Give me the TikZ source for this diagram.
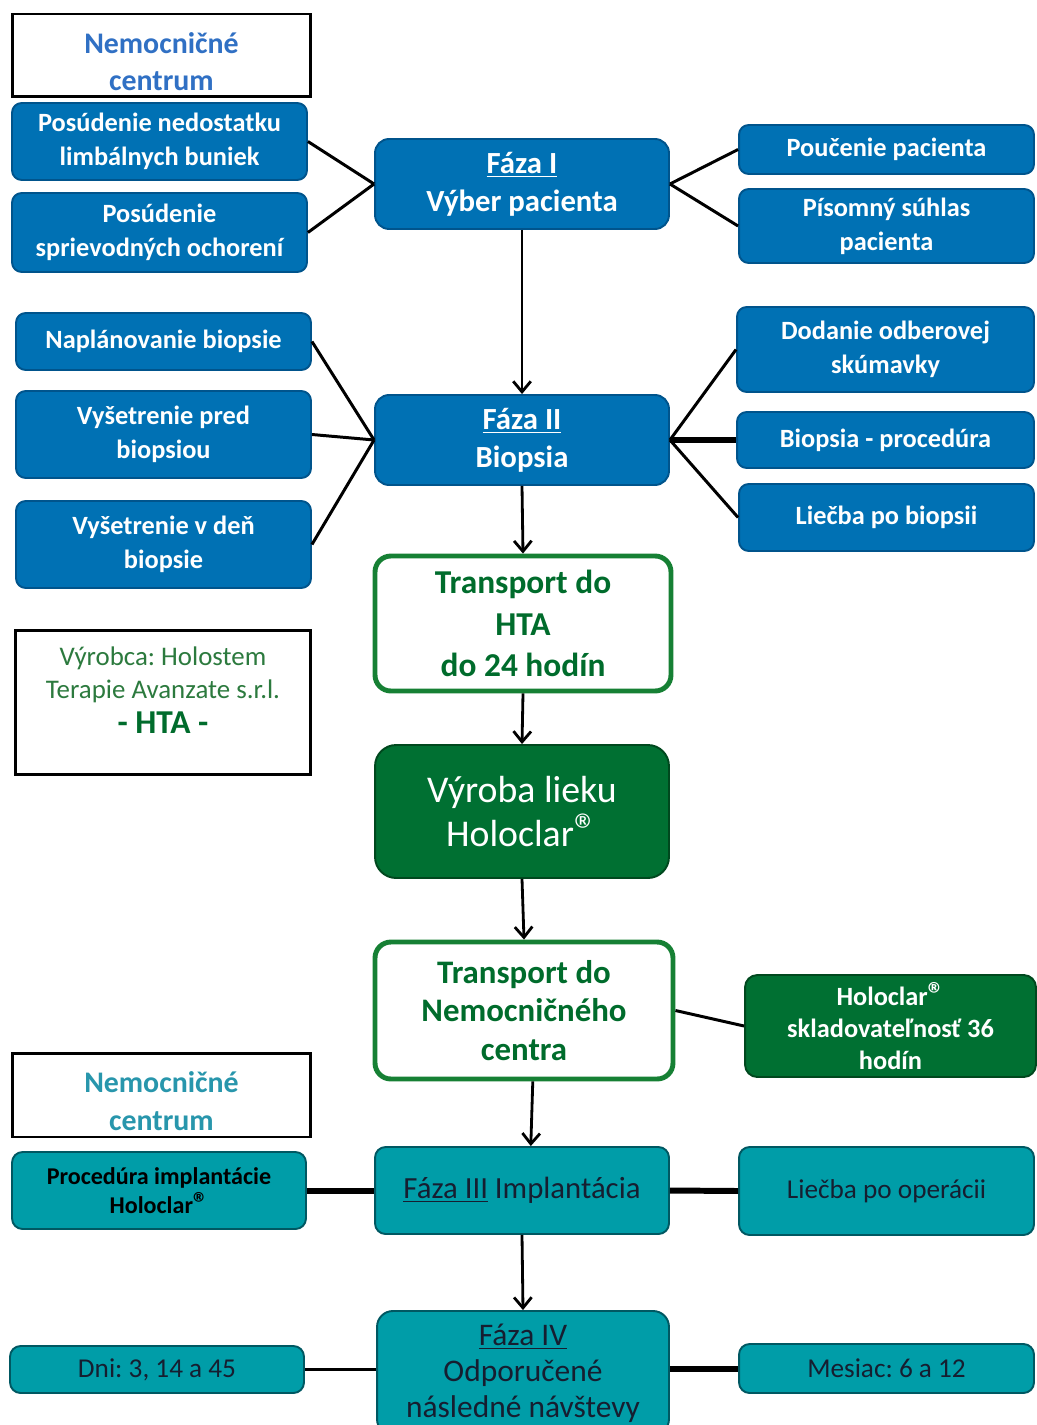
\documentclass[tikz,border=0pt]{standalone}
\usepackage{fontspec}
\setmainfont{Carlito}
\usepackage{xcolor}
\usepackage{graphicx}
\usetikzlibrary{arrows.meta, positioning}

\definecolor{bluefill}{RGB}{0,113,180}
\definecolor{blueline}{RGB}{0,84,140}
\definecolor{hospblue}{RGB}{48,112,196}
\definecolor{hospteal}{RGB}{40,150,172}
\definecolor{greenfill}{RGB}{0,112,50}
\definecolor{greenline}{RGB}{0,72,30}
\definecolor{transline}{RGB}{22,128,52}
\definecolor{transtext}{RGB}{0,108,44}
\definecolor{olive}{RGB}{44,122,62}
\definecolor{tealfill}{RGB}{0,157,168}
\definecolor{tealline}{RGB}{0,88,98}
\definecolor{tealtext}{RGB}{22,30,48}

\newcommand{\regmark}{\scalebox{1.25}{®}}

\begin{document}
\frenchspacing
\begin{tikzpicture}[
    x=0.02cm, y=-0.02cm,
    sidebox/.style={rectangle, rounded corners=5.5pt, draw=blueline, line width=1.1pt, fill=bluefill, text=white, align=center, inner sep=0pt, minimum width=5.9cm, font=\fontsize{15}{19.3}\selectfont\bfseries},
    phase/.style={sidebox, rounded corners=8pt, minimum width=5.88cm, minimum height=1.8cm, font=\fontsize{17.5}{21.5}\selectfont\bfseries},
    hosp/.style={rectangle, draw=black, line width=1.7pt, fill=white, align=center, inner sep=0pt, minimum width=5.98cm, font=\fontsize{17}{21.5}\selectfont\bfseries},
    transport/.style={rectangle, rounded corners=9pt, draw=transline, line width=2.8pt, fill=white, text=transtext, align=center, inner sep=0pt, font=\fontsize{19}{23.5}\selectfont\bfseries},
    drug/.style={rectangle, rounded corners=10pt, draw=greenline, line width=1.1pt, fill=greenfill, text=white, align=center, inner sep=0pt},
    tealbox/.style={rectangle, rounded corners=6pt, draw=tealline, line width=1.1pt, fill=tealfill, text=tealtext, align=center, inner sep=0pt, minimum width=5.9cm, font=\fontsize{15.5}{18.5}\selectfont},
    link/.style={line width=1.7pt},
    thicklink/.style={line width=3.4pt},
    arrow/.style={-{Straight Barb[length=6pt, width=10pt]}, line width=1.6pt}
]
\useasboundingbox (0,0) rectangle (1036,1425);

% Hospital centre, phase I
\node[hosp, text=hospblue, minimum height=1.66cm] (hosp1) at (161.5,55.5) {\rule{0pt}{19pt}Nemocničné\\centrum};
\node[sidebox, minimum height=1.54cm] (lack) at (159.5,141.5) {Posúdenie nedostatku\\limbálnych buniek};
\node[sidebox, minimum height=1.58cm] (comorb) at (159.5,232.5) {Posúdenie\\sprievodných ochorení};
\node[phase] (phase1) at (522,184) {\underline{Fáza I}\\Výber pacienta};
\node[sidebox, minimum height=0.98cm] (inform) at (886.5,149.5) {Poučenie pacienta};
\node[sidebox, minimum height=1.48cm] (consent) at (886.5,226) {Písomný súhlas\\pacienta};

\draw[link] (lack.east) -- (phase1.west);
\draw[link] (comorb.east) -- (phase1.west);
\draw[link] (phase1.east) -- (inform.west);
\draw[link] (phase1.east) -- (consent.west);

% Phase II
\node[sidebox, minimum height=1.14cm] (plan) at (163.5,341.5) {Naplánovanie biopsie};
\node[sidebox, minimum height=1.74cm] (exambefore) at (163.5,434.5) {Vyšetrenie pred\\biopsiou};
\node[sidebox, minimum height=1.74cm] (examday) at (163.5,544.5) {Vyšetrenie v deň\\biopsie};
\node[phase] (phase2) at (522,440) {\underline{Fáza II}\\Biopsia};
\node[sidebox, minimum width=5.94cm, minimum height=1.7cm] (tube) at (885.5,349.5) {Dodanie odberovej\\skúmavky};
\node[sidebox, minimum width=5.94cm, minimum height=1.12cm] (biopsy) at (885.5,440) {Biopsia - procedúra};
\node[sidebox, minimum height=1.34cm] (aftercare) at (886.5,517.5) {Liečba po biopsii};

\draw[arrow] (phase1.south) -- (phase2.north);
\draw[link] (plan.east) -- (phase2.west);
\draw[link] (exambefore.east) -- (phase2.west);
\draw[link] (examday.east) -- (phase2.west);
\draw[link] (phase2.east) -- (tube.west);
\draw[thicklink] (phase2.east) -- (biopsy.west);
\draw[link] (phase2.east) -- (aftercare.west);

% Transport and manufacture
\node[transport, minimum width=5.92cm, minimum height=2.7cm] (trans1) at (523,623.5) {Transport do\\HTA\\do 24 hodín};
\node[hosp, minimum width=5.92cm, minimum height=2.9cm] (hta) at (163,702.5) {};
\node[align=center, text=olive, font=\fontsize{15.3}{18.7}\selectfont] (htalabel) at (163,690)
    {Výrobca: Holostem\\Terapie Avanzate s.r.l.\\[1pt]{\color{transtext}\fontsize{19}{21}\selectfont\bfseries - HTA -}};
\node[drug, minimum width=5.88cm, minimum height=2.66cm, rounded corners=12pt, font=\fontsize{21.5}{25}\selectfont] (make) at (522,811.5) {Výroba lieku\\Holoclar\regmark};
\node[transport, minimum width=5.96cm, minimum height=2.74cm, font=\fontsize{18.7}{22}\selectfont\bfseries] (trans2) at (524,1010.5) {Transport do\\Nemocničného\\centra};
\node[drug, minimum width=5.82cm, minimum height=2.04cm, rounded corners=7pt, font=\fontsize{15}{18}\selectfont\bfseries] (storage) at (890.5,1026) {Holoclar\regmark\\skladovateľnosť 36\\hodín};

\draw[arrow] (phase2.south) -- (trans1.north);
\draw[arrow] (trans1.south) -- (make.north);
\draw[arrow] (make.south) -- (trans2.north);
\draw[link] (trans2.east) -- (storage.west);

% Phase III
\node[hosp, text=hospteal, minimum height=1.68cm] (hosp2) at (161.5,1095) {\rule{0pt}{19pt}Nemocničné\\centrum};
\node[tealbox, minimum width=5.88cm, minimum height=1.74cm, font=\fontsize{17.5}{20}\selectfont] (phase3) at (522,1190.5) {\underline{Fáza III} Implantácia};
\node[tealbox, minimum width=5.88cm, minimum height=1.54cm, text=black, font=\fontsize{13.7}{16.4}\selectfont\bfseries] (implant) at (159,1190.5) {Procedúra implantácie\\Holoclar\regmark};
\node[tealbox, minimum height=1.76cm] (postop) at (886.5,1191) {Liečba po operácii};

\draw[arrow] ([xshift=5pt]trans2.south) -- ([xshift=5pt]phase3.north);
\draw[thicklink] (implant.east) -- (phase3.west);
\draw[thicklink] (phase3.east) -- (postop.west);

% Phase IV
\node[tealbox, minimum width=5.84cm, minimum height=2.48cm, rounded corners=9pt, font=\fontsize{17.9}{20.5}\selectfont] (phase4) at (523,1373) {\underline{Fáza IV}\\Odporučené\\následné návštevy};
\node[tealbox, minimum width=5.88cm, minimum height=0.94cm] (days) at (157,1369.5) {Dni: 3, 14 a 45};
\node[tealbox, minimum height=0.98cm] (months) at (886.5,1368.5) {Mesiac: 6 a 12};

\draw[arrow] (phase3.south) -- (phase4.north);
\draw[link] (days.east) -- (days.east -| phase4.west);
\draw[thicklink] (months.west -| phase4.east) -- (months.west);

\end{tikzpicture}
\end{document}
